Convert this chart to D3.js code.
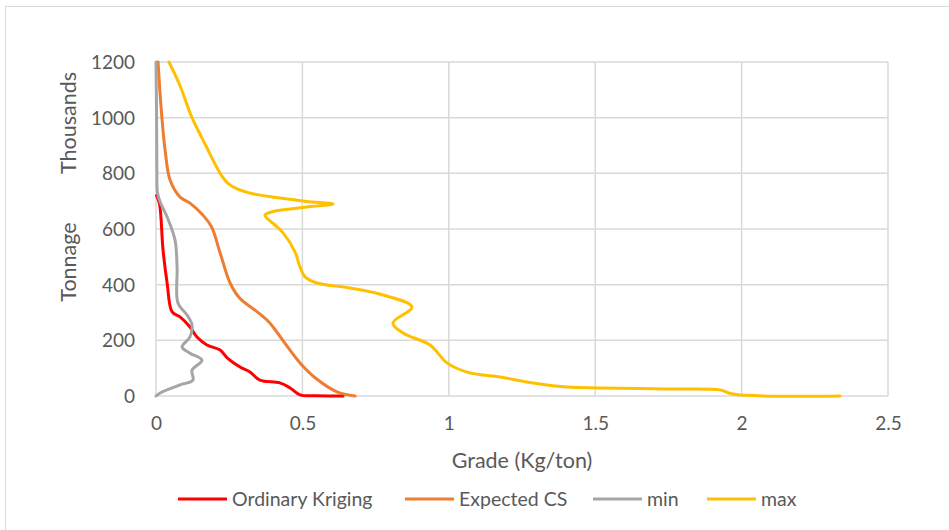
<!DOCTYPE html>
<html>
<head>
<meta charset="utf-8">
<script src="https://cdn.jsdelivr.net/npm/d3@7"></script>
<style>
	body { margin: 0; background: #fff; }
	text { font-family: Lato, "Open Sans", sans-serif; fill: #595959; }
</style>
</head>
<body>
<div id="chart"></div>
<script>
// grade (Kg/ton) and tonnage (thousands), top to bottom
var okGrade = [0.002, 0.012, 0.024, 0.038, 0.055, 0.082, 0.116, 0.14, 0.174, 0.219, 0.243, 0.287, 0.321, 0.355, 0.423, 0.458, 0.492, 0.55, 0.639];
var okTonnage = [720, 690, 525, 406, 302, 284, 248, 212, 183, 165, 137, 104, 86, 57, 47, 29, 4, 1, 0];

var csGrade = [0.007, 0.013, 0.02, 0.031, 0.048, 0.082, 0.116, 0.16, 0.19, 0.219, 0.253, 0.287, 0.33, 0.379, 0.40, 0.44, 0.492, 0.55, 0.618, 0.68];
var csTonnage = [1200, 1100, 1002, 884, 776, 715, 693, 650, 607, 514, 406, 350, 315, 273, 248, 190, 119, 60, 15, 0];

var minGrade = [0, 0.002, 0.003, 0.005, 0.014, 0.038, 0.065, 0.072, 0.075, 0.106, 0.123, 0.116, 0.089, 0.116, 0.157, 0.123, 0.126, 0.082, 0.014, 0];
var minTonnage = [1200, 1000, 800, 730, 697, 643, 560, 463, 334, 291, 255, 212, 176, 154, 129, 93, 57, 40, 11, 0];

var maxGrade = [0.044, 0.08, 0.123, 0.17, 0.219, 0.245, 0.275, 0.321, 0.423, 0.515, 0.605, 0.515, 0.40, 0.372, 0.40, 0.434, 0.475, 0.492, 0.509, 0.55, 0.663, 0.775, 0.874, 0.809, 0.844, 0.936, 0.994, 1.062, 1.175, 1.288, 1.404, 1.516, 1.745, 1.926, 1.97, 2.336];
var maxTonnage = [1200, 1120, 1000, 900, 800, 765, 745, 729, 711, 699, 690, 679, 663, 650, 620, 586, 517, 463, 428, 406, 388, 363, 320, 262, 226, 183, 119, 86, 68, 47, 32, 29, 25, 22, 7, 0];

var xTicks = [0, 0.5, 1, 1.5, 2, 2.5];
var yTicks = [0, 200, 400, 600, 800, 1000, 1200];

var seriesNames = ["Ordinary Kriging", "Expected CS", "min", "max"];
var seriesColors = ["#ff0000", "#ed7d31", "#a5a5a5", "#ffc000"];

function zipSeries(g, t) {
	return g.map(function(d, i) { return [d, t[i]]; });
}

var series = [
	zipSeries(okGrade, okTonnage),
	zipSeries(csGrade, csTonnage),
	zipSeries(minGrade, minTonnage),
	zipSeries(maxGrade, maxTonnage)
];

var width = 949, height = 530;

var x = d3.scaleLinear().domain([0, 2.5]).range([156, 888]);
var y = d3.scaleLinear().domain([0, 1200]).range([396, 62]);

var svg = d3.select("#chart").append("svg")
	.attr("width", width)
	.attr("height", height);

// chart frame (only top and left edges are visible)
svg.append("path")
	.attr("d", "M5.5," + height + "V6.5H" + width)
	.attr("fill", "none")
	.attr("stroke", "#d9d9d9")
	.attr("stroke-width", 1);

//Gridlines
svg.append("g")
	.selectAll("line.vgrid")
	.data(xTicks)
	.enter().append("line")
	.attr("x1", function(d) { return x(d); })
	.attr("x2", function(d) { return x(d); })
	.attr("y1", y(0))
	.attr("y2", y(1200))
	.attr("stroke", "#d9d9d9")
	.attr("stroke-width", 1.5);

svg.append("g")
	.selectAll("line.hgrid")
	.data(yTicks)
	.enter().append("line")
	.attr("y1", function(d) { return y(d); })
	.attr("y2", function(d) { return y(d); })
	.attr("x1", x(0))
	.attr("x2", x(2.5))
	.attr("stroke", "#d9d9d9")
	.attr("stroke-width", 1.5);

//Axes
var yAxis = svg.append("g")
	.attr("transform", "translate(" + (x(0) - 21) + ",0)")
	.call(d3.axisLeft(y).tickValues(yTicks).tickSize(0).tickPadding(0).tickFormat(d3.format("d")));
yAxis.select(".domain").remove();
yAxis.selectAll("text")
	.style("font-size", "19px")
	.style("fill", "#595959")
	.attr("dy", "0.34em");

var xAxis = svg.append("g")
	.attr("transform", "translate(0," + (y(0) + 20) + ")")
	.call(d3.axisBottom(x).tickValues(xTicks).tickSize(0).tickPadding(0).tickFormat(function(d) { return String(d); }));
xAxis.select(".domain").remove();
xAxis.selectAll("text")
	.style("font-size", "19px")
	.style("fill", "#595959")
	.attr("dy", "0.71em");

//Axis titles
svg.append("text")
	.attr("x", 522)
	.attr("y", 460)
	.attr("dy", "0.35em")
	.attr("text-anchor", "middle")
	.style("font-size", "21.5px")
	.text("Grade (Kg/ton)");

svg.append("text")
	.attr("transform", "translate(68,123) rotate(-90)")
	.attr("dy", "0.35em")
	.attr("text-anchor", "middle")
	.style("font-size", "21.5px")
	.text("Thousands");

svg.append("text")
	.attr("transform", "translate(68,262) rotate(-90)")
	.attr("dy", "0.35em")
	.attr("text-anchor", "middle")
	.style("font-size", "21.5px")
	.text("Tonnage");

//Series lines
var line = d3.line()
	.x(function(d) { return x(d[0]); })
	.y(function(d) { return y(d[1]); })
	.curve(d3.curveCatmullRom.alpha(0.5));

svg.append("g")
	.selectAll("path.series")
	.data(series)
	.enter().append("path")
	.attr("class", "series")
	.attr("d", line)
	.attr("fill", "none")
	.attr("stroke", function(d, i) { return seriesColors[i]; })
	.attr("stroke-width", 3)
	.attr("stroke-linejoin", "round")
	.attr("stroke-linecap", "round");

//Legend
var legendX = [178, 405, 593, 707];
var legend = svg.append("g")
	.selectAll("g.legend")
	.data(seriesNames)
	.enter().append("g")
	.attr("transform", function(d, i) { return "translate(" + legendX[i] + ",499)"; });

legend.append("line")
	.attr("x1", 0)
	.attr("x2", 49)
	.attr("stroke", function(d, i) { return seriesColors[i]; })
	.attr("stroke-width", 3);

legend.append("text")
	.attr("x", 54)
	.attr("dy", "0.35em")
	.style("font-size", "19.5px")
	.text(function(d) { return d; });
</script>
</body>
</html>
